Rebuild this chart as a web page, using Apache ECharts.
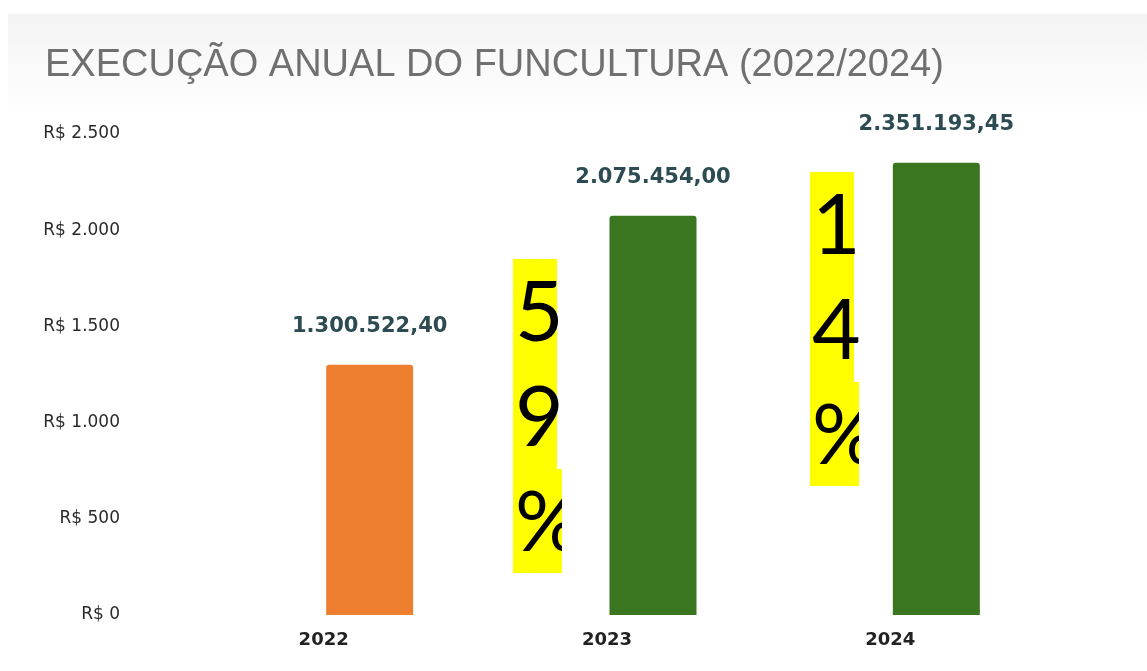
<!DOCTYPE html>
<html>
<head>
<meta charset="utf-8">
<style>
  html, body { margin: 0; padding: 0; background: #ffffff; }
  #chart { width: 1147px; height: 671px; }
</style>
<script src="https://cdn.jsdelivr.net/npm/echarts@6/dist/echarts.min.js"></script>
</head>
<body>
<div id="chart"></div>
<script>
const titleText = 'EXECUÇÃO ANUAL DO FUNCULTURA (2022/2024)';
const categories = ['2022', '2023', '2024'];
const values = [1300522.40, 2075454.00, 2351193.45];
const barColors = ['#ee7f31', '#3a761f', '#3a761f'];
const yTickLabels = ['R$ 0', 'R$ 500', 'R$ 1.000', 'R$ 1.500', 'R$ 2.000', 'R$ 2.500'];
const growthLabels = ['59%', '14%'];

function fmtBR(v) {
  const parts = v.toFixed(2).split('.');
  const intPart = parts[0].replace(/\B(?=(\d{3})+(?!\d))/g, '.');
  return intPart + ',' + parts[1];
}

const chart = echarts.init(document.getElementById('chart'), null, { renderer: 'canvas' });

function annotation(x, top, text) {
  const chars = text.split('');
  const els = [
    { type: 'rect', shape: { x: x, y: top, width: 44, height: 210 }, style: { fill: '#ffff00' }, z: 10 },
    { type: 'rect', shape: { x: x, y: top + 210, width: 49, height: 104 }, style: { fill: '#ffff00' }, z: 10 }
  ];
  chars.forEach(function (c, i) {
    els.push({
      type: 'text', x: x + 2, y: top + 55 + i * 105, z: 11,
      style: { text: c, fill: '#000000', font: '84px Lato', textVerticalAlign: 'middle', textAlign: 'left' }
    });
  });
  els.push({ type: 'rect', shape: { x: x + 49, y: top + 210, width: 18, height: 104 }, style: { fill: '#ffffff' }, z: 12 });
  return els;
}

const graphics = [
  { type: 'rect', shape: { x: 8, y: 14, width: 1139, height: 100 },
    style: { fill: new echarts.graphic.LinearGradient(0, 0, 0, 1, [
      { offset: 0, color: '#f4f4f4' }, { offset: 1, color: '#ffffff' }]) }, z: -10 },
  { type: 'text', x: 45, y: 66,
    style: { text: titleText, fill: '#707070', font: '38px "Liberation Sans"', textVerticalAlign: 'middle' } }
].concat(annotation(513, 259, growthLabels[0])).concat(annotation(810, 172, growthLabels[1]));

chart.setOption({
  animation: false,
  backgroundColor: '#ffffff',
  graphic: graphics,
  grid: { left: 228, right: 69, top: 134, bottom: 56, containLabel: false },
  xAxis: {
    type: 'category',
    data: categories,
    axisLine: { show: false },
    axisTick: { show: false },
    axisLabel: {
      margin: 16,
      color: '#222222',
      fontFamily: 'DejaVu Sans',
      fontWeight: 'bold',
      fontSize: 18,
      padding: [0, 92, 0, 0]
    }
  },
  yAxis: {
    type: 'value',
    min: 0,
    max: 2500000,
    interval: 500000,
    splitLine: { show: false },
    axisLine: { show: false },
    axisTick: { show: false },
    axisLabel: {
      margin: 108,
      color: '#2a2a2a',
      fontFamily: 'DejaVu Sans',
      fontSize: 17,
      formatter: function (v) { return yTickLabels[Math.round(v / 500000)]; }
    }
  },
  series: [{
    type: 'bar',
    data: values.map(function (v, i) { return { value: v, itemStyle: { color: barColors[i] } }; }),
    barWidth: 87,
    itemStyle: { borderRadius: [3, 3, 0, 0] },
    label: {
      show: true,
      position: 'top',
      distance: 28,
      color: '#2c4b52',
      fontFamily: 'DejaVu Sans',
      fontWeight: 'bold',
      fontSize: 21,
      formatter: function (p) { return fmtBR(p.value); }
    }
  }]
});
</script>
</body>
</html>
